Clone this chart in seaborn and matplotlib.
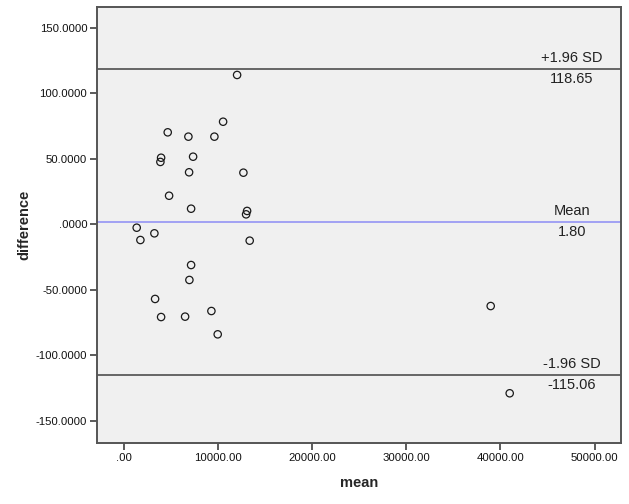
import matplotlib
matplotlib.use("Agg")
import matplotlib.pyplot as plt
import seaborn as sns
import pandas as pd

# ---- data ----
mean_vals = [12049, 10563, 4684, 6879, 9639, 3981, 3906, 7378, 6953, 12718,
             4830, 7166, 13110, 13004, 1391, 3270, 1783, 13386,
             7166, 6985, 3344, 3981, 6529, 9321, 9990,
             38970, 40987]
diff_vals = [114.0, 78.3, 70.2, 66.9, 66.9, 50.8, 47.6, 51.6, 39.7, 39.4,
             21.8, 11.9, 10.2, 7.6, -2.6, -6.9, -12.0, -12.5,
             -31.1, -42.5, -57.0, -70.8, -70.5, -66.2, -84.0,
             -62.4, -129.0]
upper_loa = 118.65
mean_diff = 1.80
lower_loa = -115.06
line_titles = ["+1.96 SD", "Mean", "-1.96 SD"]

x_ticks = [0, 10000, 20000, 30000, 40000, 50000]
x_ticklabels = [".00", "10000.00", "20000.00", "30000.00", "40000.00", "50000.00"]
y_ticks = [-150, -100, -50, 0, 50, 100, 150]
y_ticklabels = ["-150.0000", "-100.0000", "-50.0000", ".0000",
                "50.0000", "100.0000", "150.0000"]

df = pd.DataFrame({"mean": mean_vals, "difference": diff_vals})

sns.set_style("white")
plt.rcParams["font.family"] = ["Liberation Sans", "DejaVu Sans"]

fig = plt.figure(figsize=(6.29, 5.04), dpi=100)
ax = fig.add_axes([0.1542, 0.1204, 0.9865 - 0.1542, 0.9867 - 0.1204])
ax.set_facecolor("#f0f0f0")

ax.set_xlim(-2824, 52750)
ax.set_ylim(-167.2, 166.1)

# reference lines
ax.axhline(upper_loa, color="#404040", lw=1.1, zorder=1)
ax.axhline(mean_diff, color="#8c8cf5", lw=1.1, zorder=1)
ax.axhline(lower_loa, color="#404040", lw=1.1, zorder=1)

sns.scatterplot(data=df, x="mean", y="difference", ax=ax, marker="o",
                s=28, facecolor="none", edgecolor="#1a1a1a", linewidth=0.9,
                zorder=3)

# labels for lines
tx = 47600
for val, title in zip([upper_loa, mean_diff, lower_loa], line_titles):
    ax.text(tx, val + 8.4, title, ha="center", va="center", fontsize=10.5,
            color="#222222")
    ax.text(tx, val - 7.6, f"{val:.2f}", ha="center", va="center",
            fontsize=10.5, color="#222222")

ax.set_xticks(x_ticks)
ax.set_xticklabels(x_ticklabels)
ax.set_yticks(y_ticks)
ax.set_yticklabels(y_ticklabels)
ax.tick_params(axis="both", which="major", direction="out", length=5,
               width=1.2, color="#404040", labelsize=8.2, labelcolor="#111111",
               pad=2, bottom=True, left=True)

for side, sp in ax.spines.items():
    sp.set_color("#555555")
    sp.set_linewidth(1.4)

ax.set_xlabel("mean", fontsize=10.5, fontweight="bold", labelpad=9)
ax.set_ylabel("difference", fontsize=10.5, fontweight="bold", labelpad=3)

fig.savefig("out.png", dpi=100)
